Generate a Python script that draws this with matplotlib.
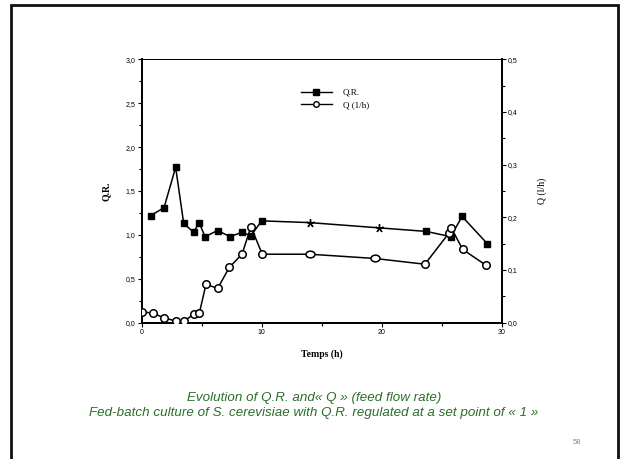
import numpy as np
import matplotlib
matplotlib.use('Agg')
import matplotlib.pyplot as plt
from matplotlib.path import Path
from matplotlib.patches import Rectangle
from matplotlib.ticker import MultipleLocator, FuncFormatter

# Q.R. (filled squares), time in h
t_qr = [0.75, 1.86, 2.83, 3.5, 4.33, 4.78, 5.28, 6.33, 7.36, 8.36, 9.1, 10.0,
        14.0, 19.8, 23.7, 25.75, 26.7, 28.8]
qr = [1.22, 1.31, 1.77, 1.13, 1.03, 1.14, 0.98, 1.05, 0.98, 1.03, 0.99, 1.16,
      1.14, 1.08, 1.04, 0.98, 1.21, 0.90]
# points drawn as hand marks on the scan
t_qr_star = [14.0, 19.8]
qr_star = [1.14, 1.08]

# Q feed flow rate (open circles), l/h
t_q = [0.0, 0.9, 1.86, 2.83, 3.55, 4.38, 4.8, 5.36, 6.33, 7.3, 8.36, 9.1, 10.05,
       14.0, 19.4, 23.6, 25.6, 25.8, 26.75, 28.7]
q = [0.021, 0.018, 0.0095, 0.003, 0.003, 0.017, 0.018, 0.073, 0.065, 0.105,
     0.13, 0.182, 0.13, 0.13, 0.122, 0.111, 0.170, 0.180, 0.139, 0.109]
t_q_ell = [14.0, 19.4]
q_ell = [0.13, 0.122]

caption = ['Evolution of Q.R. and\u00ab Q \u00bb (feed flow rate)',
           'Fed-batch culture of S. cerevisiae with Q.R. regulated at a set point of \u00ab 1 \u00bb']

serif = 'Liberation Serif'
sans = 'Liberation Sans'

fig = plt.figure(figsize=(6.2, 4.59), dpi=100)
fig.patch.set_facecolor('white')

# slide frame
fig.patches.append(Rectangle((11/620, -0.02), (618-11)/620, 1.02 - 5/459,
                             transform=fig.transFigure, fill=False,
                             edgecolor='#111111', linewidth=2.0))

ax = fig.add_axes([141.7/620, 1-322.7/459, 360/620, (322.7-59.3)/459])
ax2 = ax.twinx()

ax.plot(t_qr, qr, color='black', lw=1.1, zorder=3)
mask = [t not in t_qr_star for t in t_qr]
ax.plot(np.array(t_qr)[mask], np.array(qr)[mask], ls='none', marker='s',
        ms=4.6, color='black', zorder=4)
ax.plot(t_qr_star, qr_star, ls='none', marker=(5, 2, 0), ms=6, mew=1.0,
        color='black', zorder=4)

ell = Path.unit_circle().transformed(matplotlib.transforms.Affine2D().scale(1.35, 1.0))
ax2.plot(t_q, q, color='black', lw=1.1, zorder=3)
mask_q = [t not in t_q_ell for t in t_q]
ax2.plot(np.array(t_q)[mask_q], np.array(q)[mask_q], ls='none', marker='o',
         ms=5.4, mfc='white', mec='black', mew=1.1, zorder=4)
ax2.plot(t_q_ell, q_ell, ls='none', marker=ell, ms=6.5, mfc='white',
         mec='black', mew=1.1, zorder=4)

ax.set_xlim(0, 30)
ax.set_ylim(0, 3.0)
ax2.set_ylim(0, 0.5)

comma = FuncFormatter(lambda v, p: ('%.1f' % v).replace('.', ','))
ax.yaxis.set_major_locator(MultipleLocator(0.5))
ax.yaxis.set_minor_locator(MultipleLocator(0.25))
ax.yaxis.set_major_formatter(comma)
ax2.yaxis.set_major_locator(MultipleLocator(0.1))
ax2.yaxis.set_minor_locator(MultipleLocator(0.05))
ax2.yaxis.set_major_formatter(comma)
ax.xaxis.set_major_locator(MultipleLocator(10))
ax.xaxis.set_minor_locator(MultipleLocator(5))

for a in (ax, ax2):
    a.tick_params(which='major', direction='out', length=3, width=0.8,
                  labelsize=5, pad=1.5)
    a.tick_params(which='minor', direction='out', length=2, width=0.8)
    for lab in a.get_xticklabels() + a.get_yticklabels():
        lab.set_family(sans)
    for s in a.spines.values():
        s.set_linewidth(1.3)
    a.spines['top'].set_linewidth(0.7)

ax.set_ylabel('Q.R.', family=serif, fontsize=7, fontweight='bold', labelpad=11)
ax2.set_ylabel('Q (l/h)', family=serif, fontsize=7, labelpad=14)
ax.set_xlabel('Temps (h)', family=serif, fontsize=7, fontweight='bold', labelpad=10)

# legend drawn like the scan
h1, = ax.plot([], [], color='black', lw=1.0, marker='s', ms=4, label='Q.R.')
h2, = ax.plot([], [], color='black', lw=1.0, marker='o', ms=4, mfc='white',
              mec='black', label='Q (1/h)')
leg = ax.legend(handles=[h1, h2], loc='upper left', bbox_to_anchor=(0.42, 0.92),
                frameon=False, prop={'family': serif, 'size': 6.5},
                handlelength=3.4, handletextpad=1.2, labelspacing=0.5)

fig.text(314/620, 1-398/459, caption[0], ha='center', va='center',
         fontsize=9.6, style='italic', color='#2a6e2a', family=sans)
fig.text(314/620, 1-413/459, caption[1], ha='center', va='center',
         fontsize=9.6, style='italic', color='#2a6e2a', family=sans)
fig.text(577/620, 1-442/459, '58', ha='center', va='center', fontsize=5.5,
         color='#888888', family=sans)

fig.savefig('out.png', dpi=100)
